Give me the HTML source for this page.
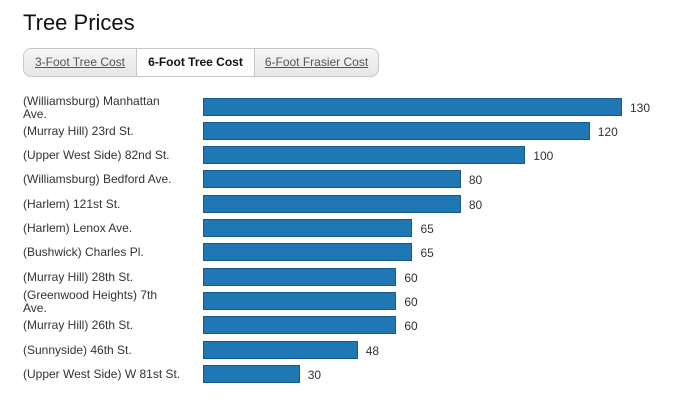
<!DOCTYPE html>
<html><head><style>
body{margin:0;width:690px;height:402px;background:#fff;font-family:"Liberation Sans",Arial,sans-serif;color:#333;position:relative;overflow:hidden}
h1{position:absolute;left:23px;top:10px;margin:0;font-weight:normal;font-size:22px;color:#111}
.tabs{position:absolute;left:23px;top:48px;width:356px;height:29px;border:1px solid #c8c8c8;border-radius:8px;background:linear-gradient(#f6f6f6,#e6e6e6);box-sizing:border-box;font-size:12px}
.tab{position:absolute;top:0;height:27px;line-height:27px;text-align:center;color:#555;text-decoration:underline}
.tab.act{background:#fff;color:#111;font-weight:bold;text-decoration:none;border-left:1px solid #c8c8c8;border-right:1px solid #c8c8c8}
.lbl{position:absolute;left:23px;font-size:12px;line-height:13px;color:#333;width:170px}
.bar{position:absolute;left:203px;height:18px;background:#1f77b4;border:1px solid #155a8a;box-sizing:border-box}
.val{position:absolute;font-size:12px;color:#333}
</style></head><body>
<h1>Tree Prices</h1>
<div class="tabs">
<div class="tab" style="left:0;width:112px">3-Foot Tree Cost</div>
<div class="tab act" style="left:112px;width:117px">6-Foot Tree Cost</div>
<div class="tab" style="left:230px;width:125px">6-Foot Frasier Cost</div>
</div>
<div id="c"></div>
<script>
var d=[["(Williamsburg) Manhattan<br>Ave.",130],["(Murray Hill) 23rd St.",120],["(Upper West Side) 82nd St.",100],["(Williamsburg) Bedford Ave.",80],["(Harlem) 121st St.",80],["(Harlem) Lenox Ave.",65],["(Bushwick) Charles Pl.",65],["(Murray Hill) 28th St.",60],["(Greenwood Heights) 7th<br>Ave.",60],["(Murray Hill) 26th St.",60],["(Sunnyside) 46th St.",48],["(Upper West Side) W 81st St.",30]];
var h="";
d.forEach(function(r,i){var c=106.5+i*24.3;var w=r[1]*3.223;
var two=r[0].indexOf("<br>")>=0;
h+='<div class="lbl" style="top:'+(two?c-12:c-6)+'px">'+r[0]+'</div>';
h+='<div class="bar" style="top:'+(c-9)+'px;width:'+w+'px"></div>';
h+='<div class="val" style="left:'+(203+w+8)+'px;top:'+(c-6)+'px">'+r[1]+'</div>';});
document.getElementById("c").innerHTML=h;
</script>
</body></html>
